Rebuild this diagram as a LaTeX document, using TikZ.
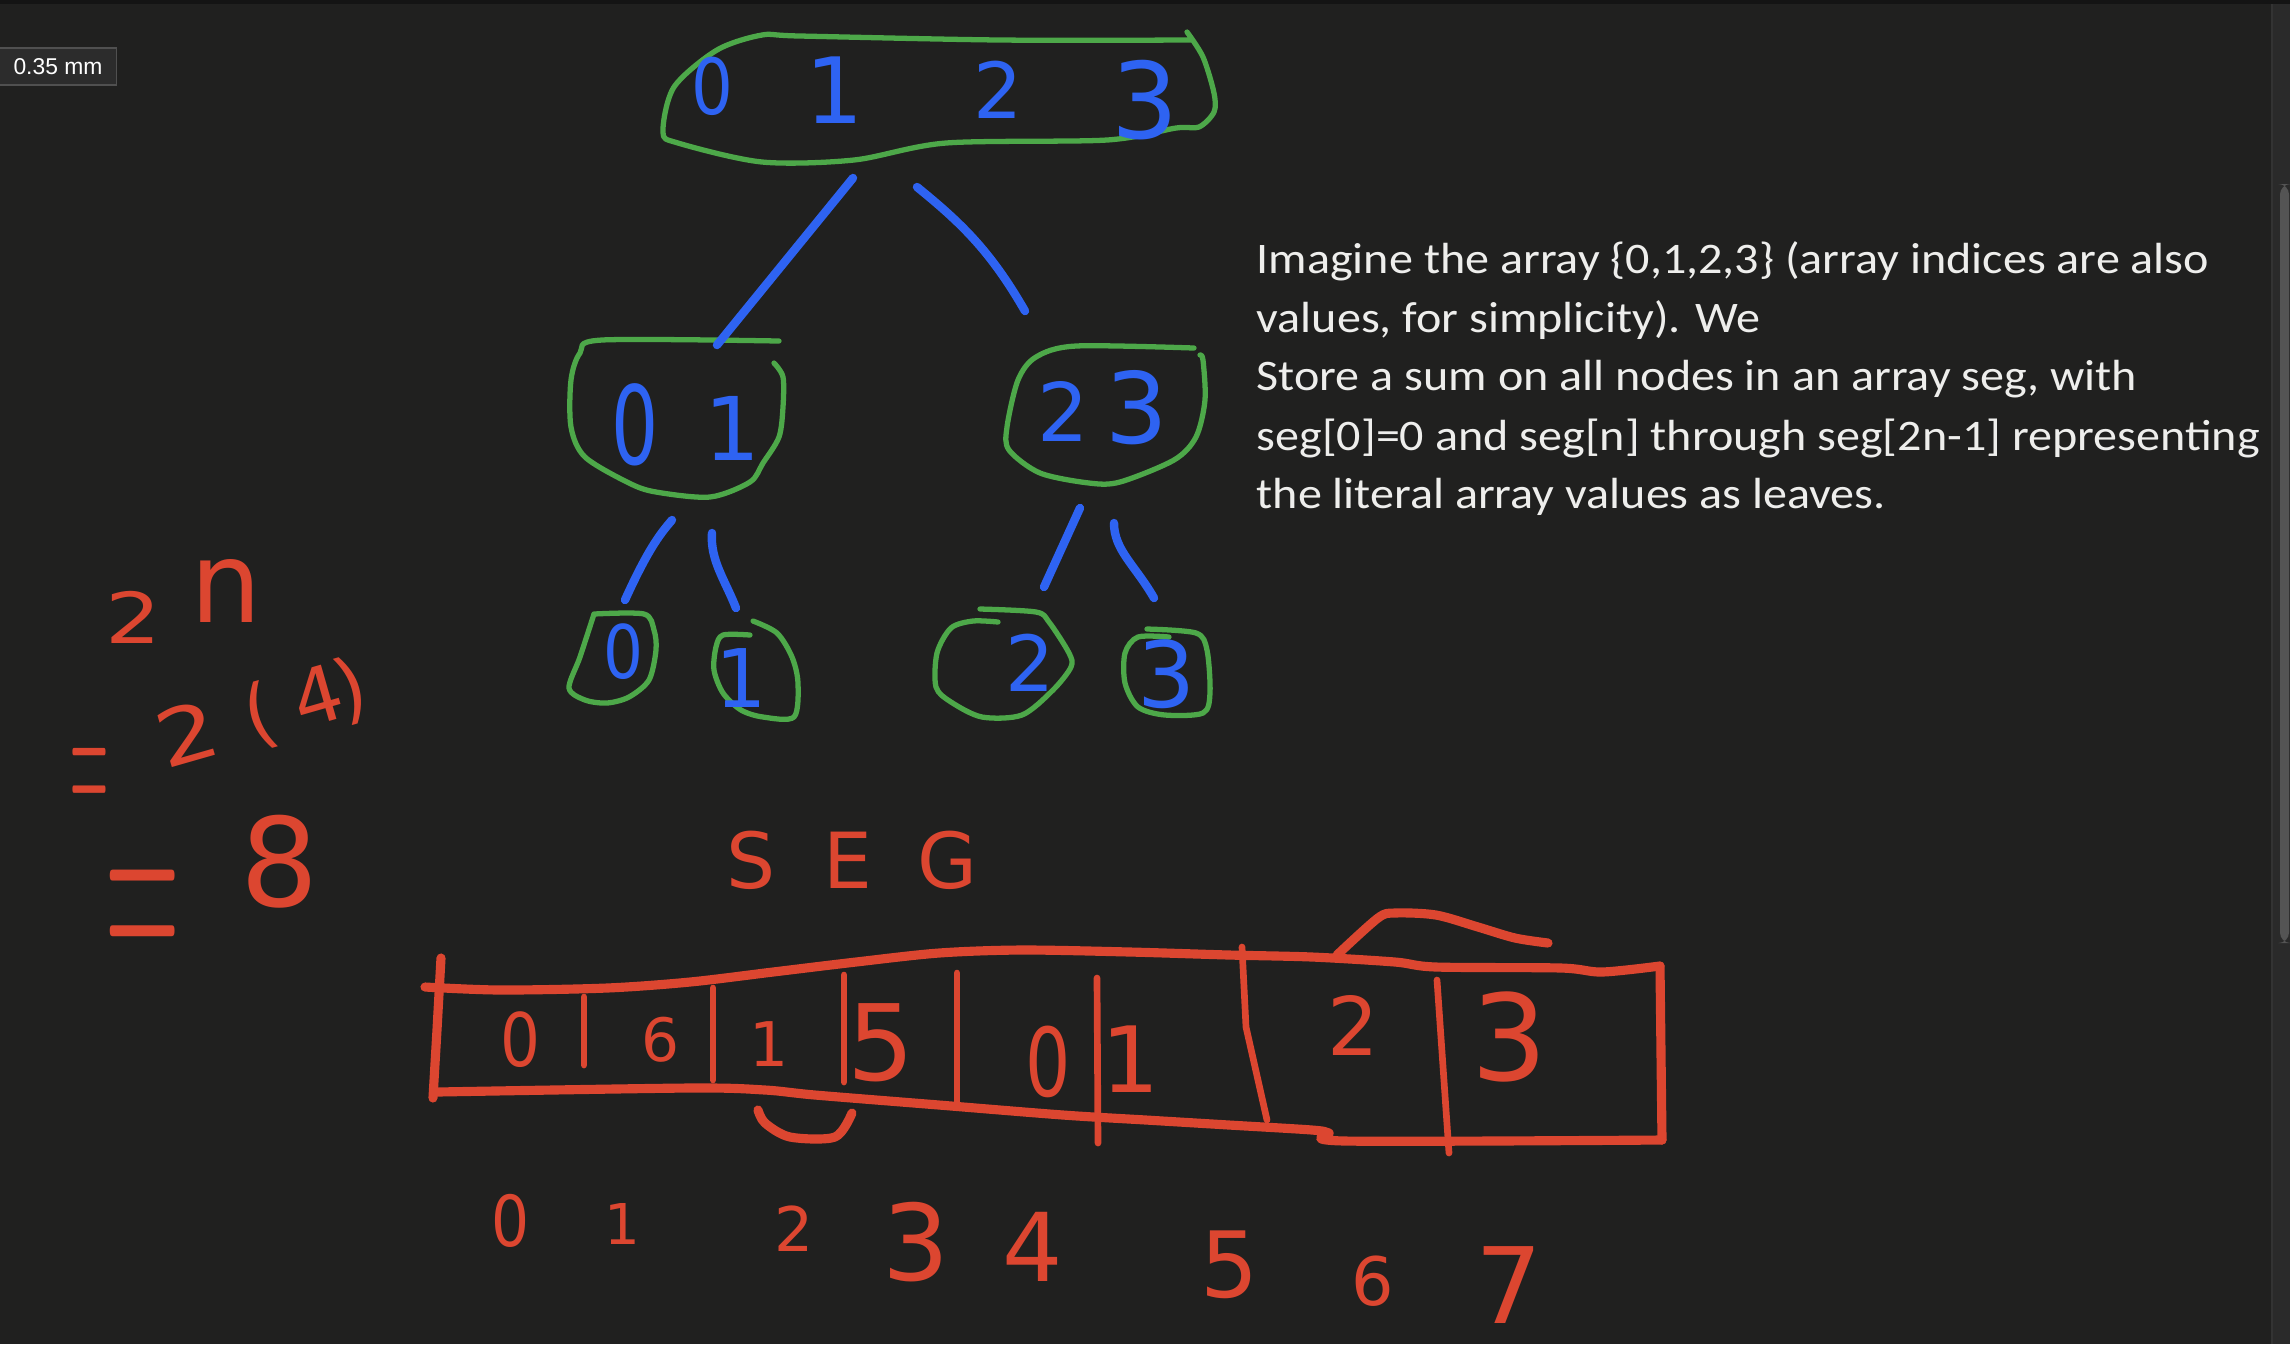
\documentclass[tikz,border=0pt]{standalone}
\usepackage{fontspec}
\newfontfamily\notefont{Carlito}
\newfontfamily\handfont{DejaVu Sans}
\newfontfamily\uifont{Liberation Sans}
\definecolor{bgc}{RGB}{32,32,31}
\definecolor{grc}{RGB}{77,168,73}
\definecolor{blc}{RGB}{46,99,242}
\definecolor{rdc}{RGB}{220,70,48}
\definecolor{txc}{RGB}{238,238,236}
\definecolor{gutc}{RGB}{42,42,42}
\definecolor{thumbc}{RGB}{84,84,84}
\definecolor{lfc}{RGB}{44,44,44}
\definecolor{lbc}{RGB}{80,80,80}
\newcommand\hsz[1]{\handfont\fontsize{#1}{#1}\selectfont}
\newcommand\wide[1]{\scalebox{1.103}[1]{#1}}
\begin{document}
\begin{tikzpicture}[x=0.01cm,y=-0.01cm,
  gline/.style={draw=grc,line width=1.5pt,line cap=round,line join=round},
  bline/.style={draw=blc,line width=2.4pt,line cap=round},
  rline/.style={draw=rdc,line width=2.6pt,line cap=round,line join=round},
  rdiv/.style={draw=rdc,line width=1.9pt,line cap=round},
  bdig/.style={text=blc,inner sep=0,outer sep=0},
  rdig/.style={text=rdc,inner sep=0,outer sep=0},
  note/.style={text=txc,anchor=base west,inner sep=0,font=\notefont\fontsize{12.4}{14}\selectfont}]
% background
\fill[bgc] (0,0) rectangle (2290,1344);
\fill[black!92] (0,0) rectangle (2290,4);
\fill[gutc] (2272,4) rectangle (2290,1344);
\draw[black!80,line width=0.4pt] (2272,4) -- (2272,1344);
\fill[thumbc,rounded corners=3pt] (2280,184) rectangle (2289,943);
\useasboundingbox (0,0) rectangle (2290,1344);
% scale label
\node[draw=lbc,fill=lfc,line width=0.5pt,minimum width=1.17cm,minimum height=0.37cm,inner sep=0,text=white,font=\uifont\fontsize{6.5}{7}\selectfont] (lbl) at (58,66.5) {0.35 mm};

% ---------- tree ----------
% root
\draw[gline] plot[smooth] coordinates {(1191,40) (1000,40) (800,36) (762,35) (717,50) (674,87) (663,132) (678,143) (762,162) (854,160) (946,143) (1107,140) (1176,128) (1199,127) (1214,112) (1214,93) (1203,57) (1187,32)};
\node[bdig,font={\hsz{22}}] (r0) at (712,86) {\scalebox{0.85}[1]{0}};
\node[bdig,font={\hsz{26}}] (r1) at (835,90) {1};
\node[bdig,font={\hsz{22}}] (r2) at (998,90) {2};
\node[bdig,font={\hsz{30}}] (r3) at (1145,100) {3};
% left child
\draw[gline] plot[smooth] coordinates {(779,341) (602,340) (580,353) (571,380) (571,427) (585,457) (629,483) (656,492) (710,497) (750,482) (763,463) (779,437) (783,407) (783,377) (774,363)};
\node[bdig,font={\hsz{31}}] (a0) at (635,425) {\scalebox{0.68}[1]{0}};
\node[bdig,font={\hsz{25}}] (a1) at (732,428) {1};
% right child
\draw[gline] plot[smooth] coordinates {(1194,348) (1076,346) (1036,357) (1018,380) (1007,427) (1009,450) (1040,473) (1089,483) (1120,482) (1174,460) (1196,437) (1205,400) (1203,360) (1200,355)};
\node[bdig,font={\hsz{23}}] (b2) at (1063,411) {2};
\node[bdig,font={\hsz{28}}] (b3) at (1137,408) {3};
% leaves
\draw[gline] plot[smooth] coordinates {(594,614) (644,614) (654,630) (656,650) (649,680) (629,697) (607,703) (585,700) (569,688) (580,657) (594,614)};
\node[bdig,font={\hsz{21}}] (l0) at (623,652) {\scalebox{0.85}[1]{0}};
\draw[gline] plot[smooth] coordinates {(750,635) (723,635) (716,647) (714,670) (723,693) (741,710) (763,717) (794,717) (798,683) (792,657) (777,633) (753,621)};
\node[bdig,font={\hsz{23}}] (l1) at (741,678) {1};
\draw[gline] plot[smooth] coordinates {(980,609) (1036,612) (1049,622) (1069,653) (1071,667) (1053,690) (1022,715) (982,717) (951,702) (936,687) (937,653) (951,628) (973,621) (998,622)};
\node[bdig,font={\hsz{22}}] (l2) at (1030,663) {2};
\draw[gline] plot[smooth] coordinates {(1147,629) (1196,633) (1207,650) (1210,693) (1203,713) (1165,715) (1138,707) (1125,683) (1125,653) (1138,637) (1169,637)};
\node[bdig,font={\hsz{26}}] (l3) at (1167,674) {3};
% edges
\coordinate (e1s) at (853,178); \coordinate (e1e) at (717,345);
\coordinate (e2s) at (917,187); \coordinate (e2e) at (1025,311);
\coordinate (e3s) at (672,520); \coordinate (e3e) at (625,600);
\coordinate (e4s) at (712,533); \coordinate (e4e) at (736,608);
\coordinate (e5s) at (1080,508); \coordinate (e5e) at (1044,587);
\coordinate (e6s) at (1114,523); \coordinate (e6e) at (1154,598);
\draw[bline] (e1s) -- (e1e);
\draw[bline] (e2s) .. controls (960,222) and (990,250) .. (e2e);
\draw[bline] (e3s) .. controls (662,532) and (650,545) .. (e3e);
\draw[bline] (e4s) .. controls (710,560) and (725,580) .. (e4e);
\draw[bline] (e5s) -- (e5e);
\draw[bline] (e6s) .. controls (1114,550) and (1135,565) .. (e6e);

% ---------- notes ----------
\node[note] (t1) at (1256,273) {\wide{Imagine the array \{0,1,2,3\} (array indices are also}};
\node[note] (t2) at (1256,332) {\wide{values, for simplicity). We}};
\node[note] (t3) at (1256,390) {\wide{Store a sum on all nodes in an array seg, with}};
\node[note] (t4) at (1256,450) {\wide{seg[0]=0 and seg[n] through seg[2n-1] representing}};
\node[note] (t5) at (1256,508) {\wide{the literal array values as leaves.}};

% ---------- left calculation ----------
\node[rdig,anchor=base west,font={\hsz{20}}] (twon) at (105,643) {\scalebox{1.25}[1]{2}\hspace{0.3cm}\raisebox{0.21cm}{\hsz{32}n}};
\node[rdig,anchor=base,font=\rmfamily\fontsize{60}{60}\selectfont] (eqa) at (89,823) {\scalebox{0.25}[1]{=}};
\node[rdig,anchor=base west,rotate=16,font={\hsz{22}}] (twofour) at (165,769) {\scalebox{1.25}[1]{2}\hspace{0.3cm}(\hspace{0.2cm}4\hspace{-0.05cm})};
\node[rdig,anchor=base,font=\rmfamily\fontsize{89}{89}\selectfont] (eqb) at (143,981) {\scalebox{0.33}[1]{=}};
\node[rdig,font={\hsz{35}}] (eight) at (280,862) {8};

% ---------- seg array ----------
\node[rdig,font={\hsz{22}}] (seg) at (852,860) {S\hspace{0.48cm}E\hspace{0.45cm}G};
\draw[rline] plot[smooth] coordinates {(425,987) (500,990) (607,988) (690,982) (773,972) (856,962) (939,953) (1022,950) (1130,952) (1229,955) (1312,957) (1395,962) (1436,967) (1561,968) (1602,972) (1660,966)};
\draw[rline] (1660,966) -- (1662,1140);
\draw[rline] plot[smooth] coordinates {(1662,1140) (1345,1141) (1329,1133) (1312,1130) (1229,1125) (1146,1120) (1063,1115) (939,1105) (815,1095) (765,1090) (690,1088) (437,1092)};
\draw[rline] (441,958) -- (437,1030) -- (433,1098);
\draw[rdiv] (584,997) -- (584,1065);
\draw[rdiv] (713,988) -- (713,1080);
\draw[rdiv] (844,975) -- (844,1082);
\draw[rdiv] (957,973) -- (957,1103);
\draw[rdiv] (1097,978) -- (1098,1143);
\draw[rdiv] (1242,947) -- (1246,1027) -- (1267,1120);
\draw[rdiv] (1437,980) -- (1449,1153);
\draw[rline] plot[smooth] coordinates {(758,1110) (765,1123) (790,1137) (835,1137) (852,1113)};
\draw[rline] plot[smooth] coordinates {(1337,955) (1378,918) (1395,913) (1436,915) (1478,927) (1515,938) (1548,943)};
\node[rdig,font={\hsz{21}}] (v0) at (520,1040) {\scalebox{0.85}[1]{0}};
\node[rdig,font={\hsz{17}}] (v1) at (661,1040) {6};
\node[rdig,font={\hsz{17.5}}] (v2) at (769,1044) {1};
\node[rdig,font={\hsz{30}}] (v3) at (881,1043) {5};
\node[rdig,font={\hsz{27}}] (v4) at (1048,1062) {\scalebox{0.75}[1]{0}};
\node[rdig,font={\hsz{26}}] (v5) at (1131,1059) {1};
\node[rdig,font={\hsz{23}}] (v6) at (1353,1025) {2};
\node[rdig,font={\hsz{34}}] (v7) at (1510,1037) {3};
% indices
\node[rdig,font={\hsz{20}}] (i0) at (511,1221) {\scalebox{0.85}[1]{0}};
\node[rdig,font={\hsz{16}}] (i1) at (622,1224) {1};
\node[rdig,font={\hsz{17.5}}] (i2) at (794,1229) {2};
\node[rdig,font={\hsz{30}}] (i3) at (916,1242) {3};
\node[rdig,font={\hsz{27}}] (i4) at (1033,1247) {4};
\node[rdig,font={\hsz{26}}] (i5) at (1230,1265) {5};
\node[rdig,font={\hsz{19}}] (i6) at (1373,1281) {6};
\node[rdig,font={\hsz{30}}] (i7) at (1509,1285) {7};
\end{tikzpicture}
\end{document}
